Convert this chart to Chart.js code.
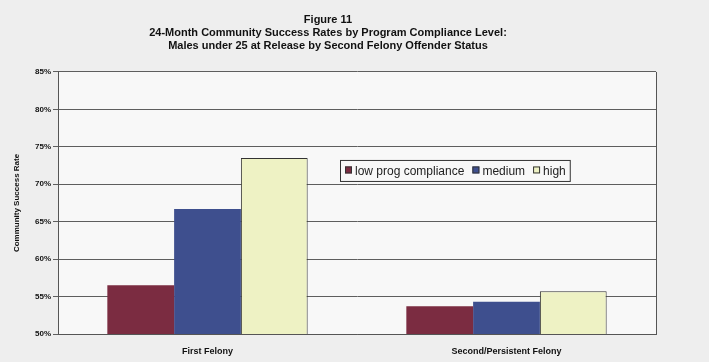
<!DOCTYPE html>
<html>
<head>
<meta charset="utf-8">
<script src="https://cdn.jsdelivr.net/npm/chart.js@4/dist/chart.umd.min.js"></script>
<style>
  html, body { margin: 0; padding: 0; background: #eeeeee; }
  #wrap { width: 709px; height: 362px; }
</style>
</head>
<body>
<div id="wrap"><canvas id="chart" width="709" height="362"></canvas></div>
<script>
const titleLines = [
  'Figure 11',
  '24-Month Community Success Rates by Program Compliance Level:',
  'Males under 25 at Release by Second Felony Offender Status',
];
const categories = ['First Felony', 'Second/Persistent Felony'];
const lowProg = [56.5, 53.7];
const medium = [66.7, 54.3];
const high = [73.5, 55.7];
const yMin = 50, yMax = 85, yStep = 5;

const FONT = '"Liberation Sans", Arial, sans-serif';

// plot background + right border
const plotFrame = {
  id: 'plotFrame',
  beforeDraw(chart) {
    const { ctx, chartArea: a } = chart;
    ctx.save();
    ctx.fillStyle = '#f8f8f8';
    ctx.fillRect(a.left, a.top, a.right - a.left, a.bottom - a.top);
    ctx.restore();
  },
  afterDraw(chart) {
    const { ctx, chartArea: a } = chart;
    ctx.save();
    ctx.strokeStyle = '#555';
    ctx.lineWidth = 1;
    ctx.beginPath();
    ctx.moveTo(Math.round(a.right) + 0.5, a.top);
    ctx.lineTo(Math.round(a.right) + 0.5, a.bottom);
    ctx.stroke();
    ctx.restore();
  },
};

// boxed legend sitting inside the plot
const boxLegend = {
  id: 'boxLegend',
  afterDraw(chart) {
    const { ctx, chartArea: a } = chart;
    const x0 = a.left + 282, y0 = a.top + 88, h = 21;
    ctx.save();
    ctx.font = '12px ' + FONT;
    ctx.textBaseline = 'middle';
    let x = x0 + 5;
    const items = chart.data.datasets.map(ds => {
      const w = ctx.measureText(ds.label).width;
      const it = { ds, x, w };
      x += 10 + w + 8;
      return it;
    });
    const boxW = x - x0 - 4;
    ctx.fillStyle = '#f8f8f8';
    ctx.fillRect(x0, y0, boxW, h);
    ctx.strokeStyle = '#333';
    ctx.lineWidth = 1;
    ctx.strokeRect(x0 + 0.5, y0 + 0.5, boxW, h);
    items.forEach(({ ds, x }) => {
      ctx.fillStyle = ds.backgroundColor;
      ctx.fillRect(x, y0 + h / 2 - 4, 7, 7);
      ctx.strokeStyle = '#333';
      ctx.strokeRect(x + 0.5, y0 + h / 2 - 3.5, 6, 6);
      ctx.fillStyle = '#222';
      ctx.fillText(ds.label, x + 10, y0 + h / 2 + 1);
    });
    ctx.restore();
  },
};

new Chart(document.getElementById('chart'), {
  type: 'bar',
  data: {
    labels: categories,
    datasets: [
      { label: 'low prog compliance', data: lowProg, backgroundColor: '#7b2c41', borderWidth: 0 },
      { label: 'medium', data: medium, backgroundColor: '#3e4f8e', borderWidth: 0 },
      { label: 'high', data: high, backgroundColor: '#eef2c4', borderColor: '#333', borderWidth: 1 },
    ],
  },
  options: {
    responsive: false,
    animation: false,
    devicePixelRatio: 1,
    layout: { padding: { top: 0, right: 53, bottom: 0, left: 0 } },
    datasets: { bar: { categoryPercentage: 0.67, barPercentage: 1.0 } },
    plugins: {
      legend: { display: false },
      tooltip: { enabled: false },
      title: {
        display: true,
        text: titleLines,
        color: '#111',
        font: { family: FONT, size: 11, weight: 'bold', lineHeight: 1.15 },
        padding: { top: 14, bottom: 20 },
      },
    },
    scales: {
      x: {
        grid: { display: false },
        border: { display: true, color: '#555' },
        ticks: { color: '#111', font: { family: FONT, size: 9, weight: 'bold' }, padding: 4 },
        afterFit(scale) { scale.height = 28; },
      },
      y: {
        min: yMin,
        max: yMax,
        ticks: {
          stepSize: yStep,
          color: '#111',
          font: { family: FONT, size: 8, weight: 'bold' },
          padding: 2,
          callback: v => v + '%',
        },
        grid: { color: '#5e5e5e', tickLength: 5 },
        border: { display: true, color: '#555' },
        title: {
          display: true,
          text: 'Community Success Rate',
          color: '#111',
          font: { family: FONT, size: 8, weight: 'bold' },
          padding: { top: 12, bottom: 4 },
        },
        afterFit(scale) { scale.width = 58; },
      },
    },
  },
  plugins: [plotFrame, boxLegend],
});
</script>
</body>
</html>
